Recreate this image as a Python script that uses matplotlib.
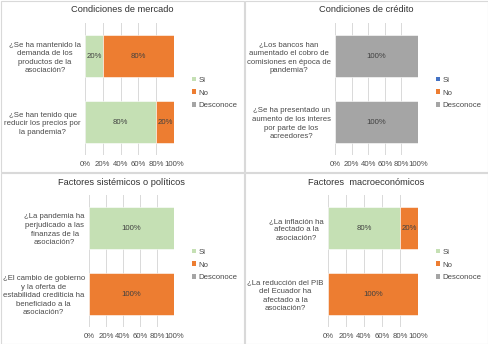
import matplotlib.pyplot as plt
from matplotlib.patches import Patch, Rectangle

plt.rcParams['font.family'] = ['Liberation Sans', 'DejaVu Sans']

W, H = 488, 344

# survey answers per block, in percent
titles = ["Condiciones de mercado", "Condiciones de crédito",
          "Factores sistémicos o políticos", "Factores  macroeconómicos"]

mercado_q = ["¿Se ha mantenido la\ndemanda de los\nproductos de la\nasociación?",
             "¿Se han tenido que\nreducir los precios por\nla pandemia?"]
mercado_si = [20, 80]
mercado_no = [80, 20]
mercado_desc = [0, 0]

credito_q = ["¿Los bancos han\naumentado el cobro de\ncomisiones en época de\npandemia?",
             "¿Se ha presentado un\naumento de los interes\npor parte de los\nacreedores?"]
credito_si = [0, 0]
credito_no = [0, 0]
credito_desc = [100, 100]

sistemicos_q = ["¿La pandemia ha\nperjudicado a las\nfinanzas de la\nasociación?",
                "¿El cambio de gobierno\ny la oferta de\nestabilidad crediticia ha\nbeneficiado a la\nasociación?"]
sistemicos_si = [100, 0]
sistemicos_no = [0, 100]
sistemicos_desc = [0, 0]

macro_q = ["¿La inflación ha\nafectado a la\nasociación?",
           "¿La reducción del PIB\ndel Ecuador ha\nafectado a la\nasociación?"]
macro_si = [80, 0]
macro_no = [20, 100]
macro_desc = [0, 0]

answers = ["Si", "No", "Desconoce"]
xticks = [0, 20, 40, 60, 80, 100]

GREEN, BLUE, ORANGE, GRAY = "#C5E0B4", "#4472C4", "#ED7D31", "#A5A5A5"
FS = 5.6
TXT = "#4a4a4a"

# (questions, series, colours, panel origin px, plot left/right px inside panel)
panels = [
    (mercado_q, [mercado_si, mercado_no, mercado_desc], [GREEN, ORANGE, GRAY], (0, 0), (85, 174)),
    (credito_q, [credito_si, credito_no, credito_desc], [BLUE, ORANGE, GRAY], (244, 0), (91, 174)),
    (sistemicos_q, [sistemicos_si, sistemicos_no, sistemicos_desc], [GREEN, ORANGE, GRAY], (0, 172), (89, 174)),
    (macro_q, [macro_si, macro_no, macro_desc], [GREEN, ORANGE, GRAY], (244, 172), (84, 174)),
]

fig = plt.figure(figsize=(W / 100, H / 100), dpi=100)

def fx(px):
    return px / W

def fy(py):
    return 1 - py / H

for title, (qs, series, colors, (ox, oy), (x0, x1)) in zip(titles, panels):
    # panel frame
    fig.patches.append(Rectangle((fx(ox + 0.5), fy(oy + 171.5)), fx(243), 171 / H,
                                 transform=fig.transFigure, fill=False,
                                 edgecolor="#D9D9D9", lw=0.8))
    fig.text(fx(ox + 122), fy(oy + 10), title, ha="center", va="center",
             fontsize=6.7, color="#333333")

    top, bottom = oy + 23, oy + 155
    ax = fig.add_axes([fx(ox + x0), fy(bottom), fx(x1 - x0), (bottom - top) / H])
    ypos = list(range(len(qs)))
    left = [0] * len(qs)
    for vals, col in zip(series, colors):
        bars = ax.barh(ypos, vals, left=left, height=0.65, color=col,
                       edgecolor="white", linewidth=0.4, zorder=2)
        for b, v, l in zip(bars, vals, left):
            if v > 0:
                ax.text(l + v / 2, b.get_y() + b.get_height() / 2, f"{v}%",
                        ha="center", va="center", fontsize=FS, color="#404040")
        left = [a + b for a, b in zip(left, vals)]

    ax.set_xlim(0, 100)
    ax.set_ylim(len(qs) - 0.5, -0.5)
    ax.set_xticks(xticks)
    ax.set_xticklabels([f"{t}%" for t in xticks], fontsize=FS, color=TXT)
    ax.set_yticks(ypos)
    ax.set_yticklabels(qs, fontsize=FS, color=TXT, linespacing=1.3)
    for t in ax.get_yticklabels():
        t.set_multialignment("center")
    ax.tick_params(axis="y", length=0, pad=3)
    ax.tick_params(axis="x", length=0, pad=4)
    ax.grid(axis="x", color="#D9D9D9", lw=0.7, zorder=0)
    for s in ax.spines.values():
        s.set_visible(False)

    handles = [Patch(facecolor=c, edgecolor="none") for c in colors]
    fig.legend(handles, answers, loc="center left",
               bbox_to_anchor=(fx(ox + 192), fy(oy + 93)), frameon=False,
               fontsize=FS, labelcolor=TXT, handlelength=0.55,
               handleheight=0.55, handletextpad=0.3, labelspacing=0.75,
               borderpad=0, borderaxespad=0)

fig.savefig("out.png", dpi=100)
